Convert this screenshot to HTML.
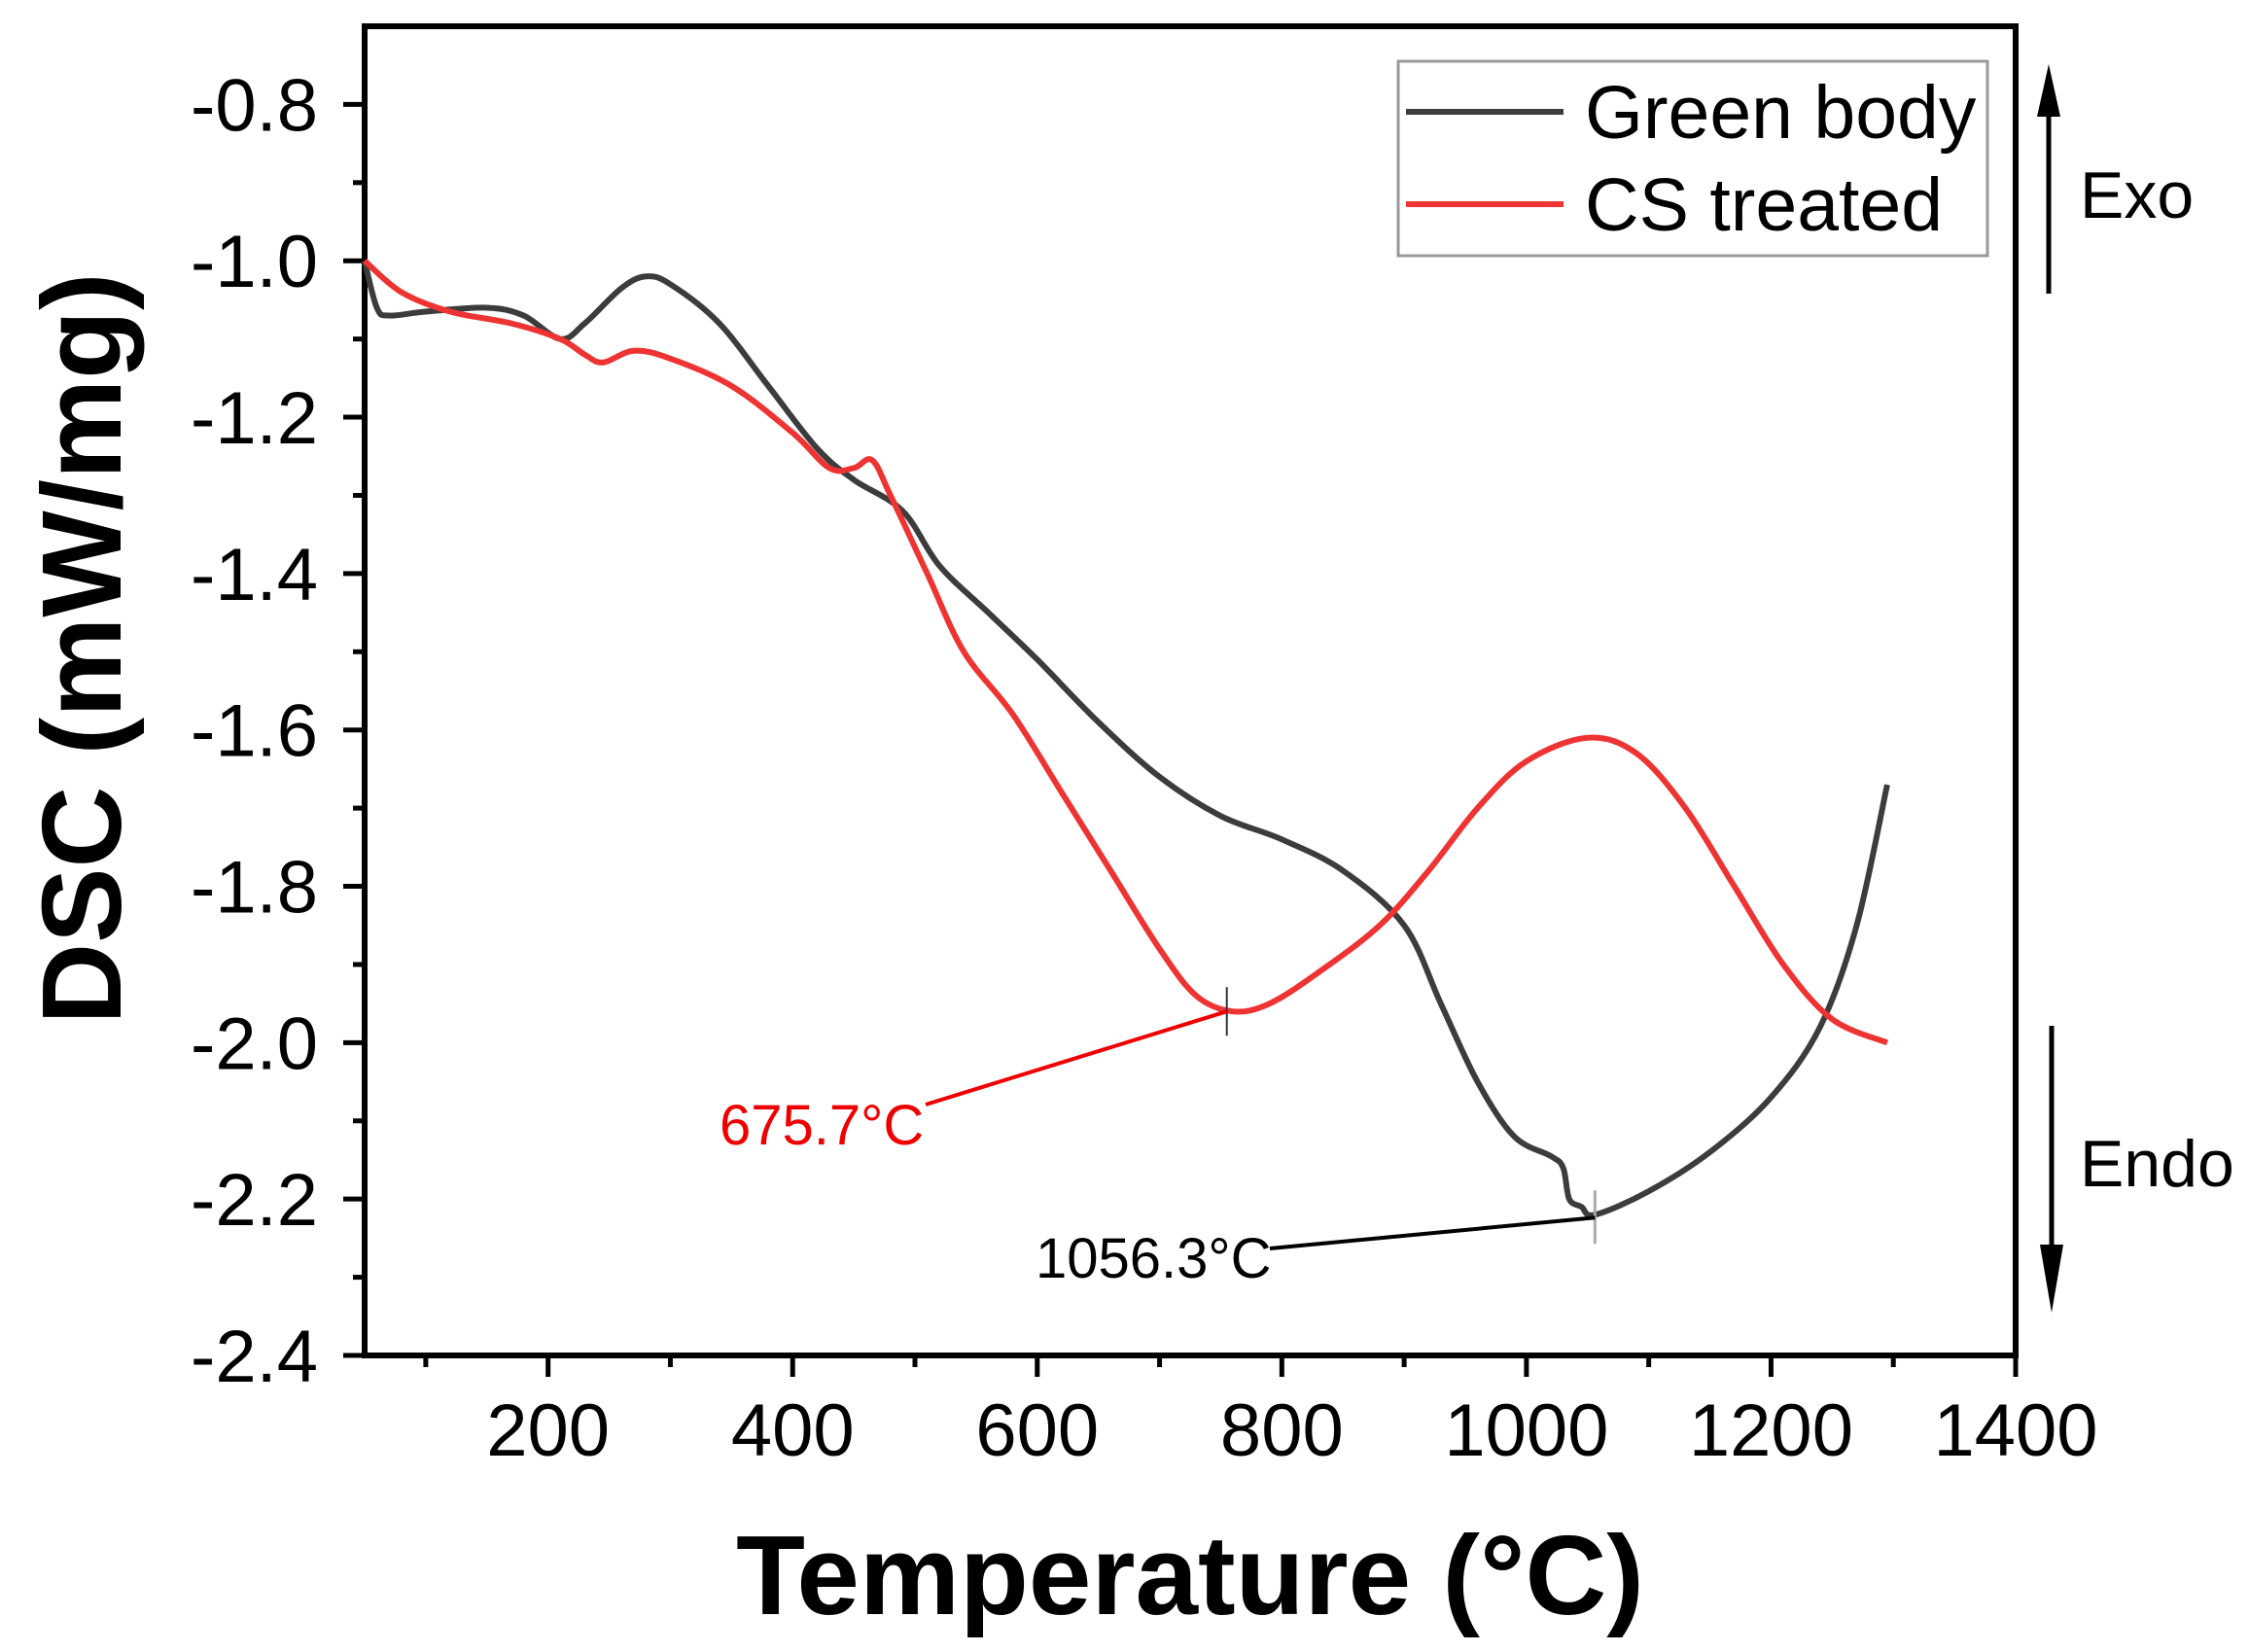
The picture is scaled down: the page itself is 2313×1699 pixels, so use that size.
<!DOCTYPE html>
<html><head><meta charset="utf-8"><style>
html,body{margin:0;padding:0;background:#fff;}
svg{display:block;font-family:"Liberation Sans",Arial,sans-serif;}
</style></head><body>
<svg id="chart" width="2313" height="1699" viewBox="0 0 2313 1699" xmlns="http://www.w3.org/2000/svg">
<g id="plot"></g>
</svg>
<script>
const xTicks=[200,400,600,800,1000,1200,1400];
const yTicks=[-0.8,-1.0,-1.2,-1.4,-1.6,-1.8,-2.0,-2.2,-2.4];
const greenT=[50,60,70,100,150,180,210,230,260,280,300,340,380,420,450,490,520,560,600,650,700,750,800,850,900,930,960,990,1020,1030,1035,1045,1056,1100,1150,1200,1240,1270,1295];
const greenV=[-1.0,-1.06,-1.07,-1.065,-1.06,-1.07,-1.10,-1.08,-1.035,-1.02,-1.03,-1.08,-1.16,-1.24,-1.28,-1.32,-1.39,-1.45,-1.51,-1.59,-1.66,-1.71,-1.74,-1.78,-1.85,-1.95,-2.05,-2.12,-2.145,-2.16,-2.2,-2.21,-2.22,-2.19,-2.14,-2.07,-1.98,-1.85,-1.67];
const csT=[50,80,120,170,210,230,245,270,300,350,400,430,450,465,480,510,540,580,620,660,700,730,760,790,830,880,920,960,1000,1050,1090,1130,1170,1210,1250,1295];
const csV=[-1.0,-1.04,-1.065,-1.08,-1.1,-1.12,-1.13,-1.115,-1.125,-1.16,-1.22,-1.265,-1.265,-1.255,-1.3,-1.4,-1.5,-1.58,-1.68,-1.78,-1.88,-1.94,-1.96,-1.95,-1.91,-1.85,-1.78,-1.7,-1.64,-1.61,-1.63,-1.7,-1.8,-1.9,-1.97,-2.0];
const peakCS=[755,-1.96];const peakGreen=[1056,-2.22];
const X0=375,X1=2073,Y0=27,Y1=1394,xmin=50,xmax=1400,ymin=-2.4,ymax=-0.7;
const sx=t=>X0+(t-xmin)/(xmax-xmin)*(X1-X0);
const sy=v=>Y1-(v-ymin)/(ymax-ymin)*(Y1-Y0);
const NS='http://www.w3.org/2000/svg';
const g=document.getElementById('plot');
function mk(tag,attrs,text){const e=document.createElementNS(NS,tag);for(const k in attrs)e.setAttribute(k,attrs[k]);if(text!==undefined)e.textContent=text;g.appendChild(e);return e;}
let e;
e=mk('rect',{x:X0,y:Y0,width:X1-X0,height:Y1-Y0,fill:'none',stroke:'#000','stroke-width':6});


for(let t=100;t<=1400;t+=100){const maj=t%200===0;
e=mk('line',{x1:sx(t),x2:sx(t),y1:Y1,y2:Y1+(maj?22:12),stroke:'#000','stroke-width':5});

}
xTicks.forEach(t=>{e=mk('text',{x:sx(t),y:1497,'font-size':76,'text-anchor':'middle'},String(t));

});
for(let i=0;i<=16;i++){const v=-2.4+i*0.1;const maj=i%2===0;
e=mk('line',{x1:X0,x2:X0-(maj?22:12),y1:sy(v),y2:sy(v),stroke:'#000','stroke-width':5});

}
yTicks.forEach(v=>{e=mk('text',{x:327,y:sy(v)+27,'font-size':76,'text-anchor':'end'},v.toFixed(1));

});
e=mk('text',{x:1224,y:1660,'font-size':116,'font-weight':'bold','text-anchor':'middle'},'Temperature (°C)');


e=mk('text',{x:0,y:0,'font-size':116,'font-weight':'bold','text-anchor':'middle',transform:'translate(124,667) rotate(-90)'},'DSC (mW/mg)');


function path(T,V){const P=T.map((t,i)=>[sx(t),sy(V[i])]);let d='M'+P[0][0].toFixed(1)+','+P[0][1].toFixed(1);
for(let i=0;i<P.length-1;i++){const p0=P[Math.max(0,i-1)],p1=P[i],p2=P[i+1],p3=P[Math.min(P.length-1,i+2)];
const c1=[p1[0]+(p2[0]-p0[0])/6,p1[1]+(p2[1]-p0[1])/6],c2=[p2[0]-(p3[0]-p1[0])/6,p2[1]-(p3[1]-p1[1])/6];
d+=' C'+c1[0].toFixed(1)+','+c1[1].toFixed(1)+' '+c2[0].toFixed(1)+','+c2[1].toFixed(1)+' '+p2[0].toFixed(1)+','+p2[1].toFixed(1);}
return d;}
e=mk('path',{d:path(greenT,greenV),fill:'none',stroke:'#3c3c3c','stroke-width':6,'stroke-linejoin':'round'});


e=mk('path',{d:path(csT,csV),fill:'none',stroke:'#ee3333','stroke-width':6,'stroke-linejoin':'round'});


const pcx=sx(peakCS[0]),pcy=sy(peakCS[1]);
e=mk('line',{x1:pcx,y1:pcy-25,x2:pcx,y2:pcy+25,stroke:'#333','stroke-width':2});


e=mk('line',{x1:pcx,y1:pcy,x2:952,y2:1136,stroke:'#ee0000','stroke-width':4});


e=mk('text',{x:740,y:1177,'font-size':58,fill:'#ee0000'},'675.7°C');


const pgx=sx(peakGreen[0]),pgy=sy(peakGreen[1]);
e=mk('line',{x1:pgx,y1:pgy-25,x2:pgx,y2:pgy+30,stroke:'#aaa','stroke-width':3});


e=mk('line',{x1:pgx,y1:pgy+3,x2:1306,y2:1284,stroke:'#000','stroke-width':4});


e=mk('text',{x:1065,y:1314,'font-size':58,fill:'#000'},'1056.3°C');


e=mk('rect',{x:1438,y:63,width:606,height:200,fill:'#fff',stroke:'#999','stroke-width':3});


e=mk('line',{x1:1446,x2:1608,y1:115,y2:115,stroke:'#3c3c3c','stroke-width':6});


e=mk('text',{x:1630,y:142,'font-size':77},'Green body');


e=mk('line',{x1:1446,x2:1608,y1:210,y2:210,stroke:'#ee3333','stroke-width':6});


e=mk('text',{x:1630,y:237,'font-size':77},'CS treated');


e=mk('line',{x1:2107,x2:2107,y1:302,y2:110,stroke:'#000','stroke-width':5});


e=mk('polygon',{points:'2095,120 2107,66 2119,120',fill:'#000'});


e=mk('text',{x:2139,y:224,'font-size':68},'Exo');


e=mk('line',{x1:2110,x2:2110,y1:1055,y2:1290,stroke:'#000','stroke-width':5});


e=mk('polygon',{points:'2098,1280 2110,1350 2122,1280',fill:'#000'});


e=mk('text',{x:2139,y:1220,'font-size':68},'Endo');


</script>
</body></html>
